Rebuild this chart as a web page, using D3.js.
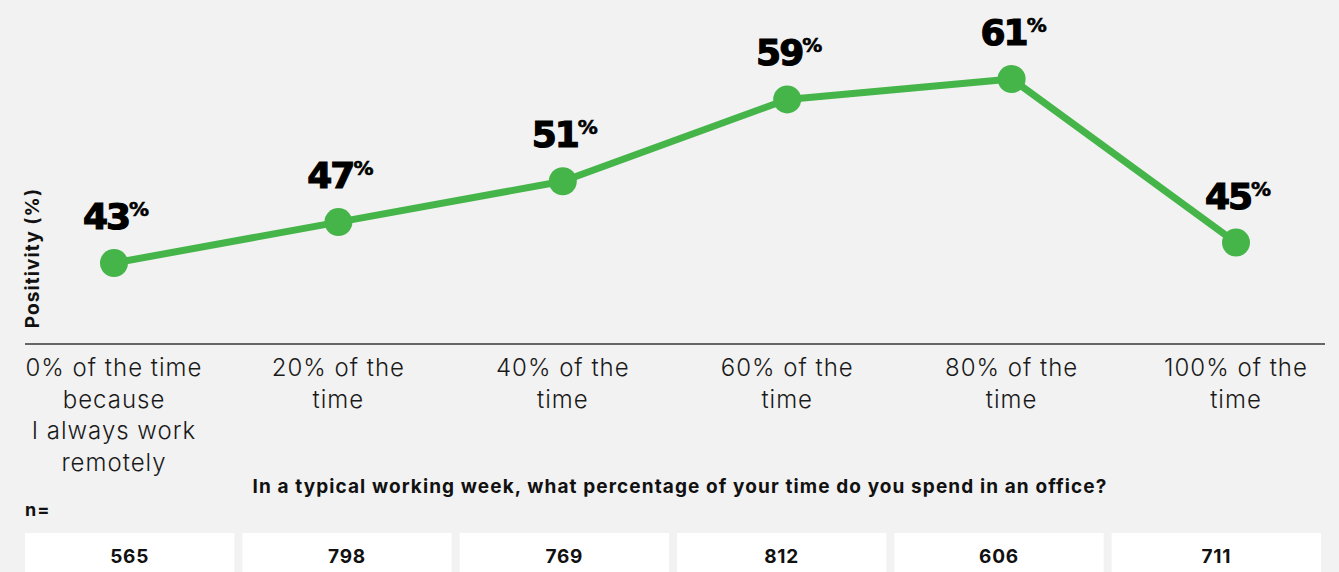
<!DOCTYPE html>
<html lang="en">
<head>
<meta charset="utf-8">
<title>Positivity by office time</title>
<script src="https://d3js.org/d3.v7.min.js"></script>
<style>
  html, body { margin: 0; padding: 0; background: #f2f2f2; }
  svg { display: block; }
  .bold { font-family: Inter, 'DejaVu Sans', sans-serif; font-weight: 700; fill: #111; }
</style>
</head>
<body>
<div id="chart"></div>
<script>
// data
const categories = [
  ["0% of the time", "because", "I always work", "remotely"],
  ["20% of the", "time"],
  ["40% of the", "time"],
  ["60% of the", "time"],
  ["80% of the", "time"],
  ["100% of the", "time"]
];
const positivity = [43, 47, 51, 59, 61, 45];
const sampleSizes = [565, 798, 769, 812, 606, 711];

const W = 1339, H = 572;

const svg = d3.select("#chart").append("svg")
    .attr("width", W)
    .attr("height", H);

const idx = d3.range(categories.length);

// x scale - point positions
const x = d3.scalePoint()
    .domain(idx)
    .range([114, 1236]);

// y scale
const y = d3.scaleLinear()
    .domain([35, 65])
    .range([344.8, 38.1]);

// baseline axis
svg.append("line")
    .attr("x1", 25).attr("x2", 1325)
    .attr("y1", 344).attr("y2", 344)
    .attr("stroke", "#666")
    .attr("stroke-width", 2);

// y axis title
svg.append("text")
    .attr("class", "bold")
    .attr("transform", "translate(39,258) rotate(-90)")
    .attr("text-anchor", "middle")
    .style("font-size", "19px")
    .style("letter-spacing", "1.1px")
    .text("Positivity (%)");

// line
const line = d3.line()
    .x((d, i) => x(i))
    .y(d => y(d));

svg.append("path")
    .datum(positivity)
    .attr("d", line)
    .attr("fill", "none")
    .attr("stroke", "#45b549")
    .attr("stroke-width", 7)
    .attr("stroke-linejoin", "round");

svg.selectAll(".dot")
    .data(positivity)
    .enter().append("circle")
    .attr("cx", (d, i) => x(i))
    .attr("cy", d => y(d))
    .attr("r", 14)
    .attr("fill", "#45b549");

// value labels
const lbl = svg.selectAll(".val")
    .data(positivity)
    .enter().append("text")
    .attr("x", (d, i) => x(i) + 1)
    .attr("y", d => y(d) - 34)
    .attr("text-anchor", "middle")
    .style("font-family", "'DejaVu Sans', sans-serif")
    .style("font-weight", 700)
    .style("letter-spacing", "-2px")
    .attr("fill", "#000")
    .attr("stroke", "#000")
    .attr("stroke-width", 1.2);
lbl.append("tspan")
    .style("font-size", "36px")
    .text(d => d);
lbl.append("tspan")
    .style("font-size", "20px")
    .attr("stroke-width", 0.6)
    .attr("dy", -13)
    .text("%");

// category labels
categories.forEach((lines, i) => {
  const t = svg.append("text")
      .attr("text-anchor", "middle")
      .attr("y", 376)
      .style("font-family", "Inter, 'Open Sans', sans-serif")
      .style("font-weight", 300)
      .style("font-size", "24px")
      .style("letter-spacing", "1px")
      .attr("fill", "#1a1a1a");
  lines.forEach((s, j) => {
    t.append("tspan")
      .attr("x", x(i))
      .attr("y", 376 + j * 31.5)
      .text(s);
  });
});

// x axis title
svg.append("text")
    .attr("class", "bold")
    .attr("x", 680)
    .attr("y", 493)
    .attr("text-anchor", "middle")
    .style("font-size", "19px")
    .style("letter-spacing", "1.1px")
    .text("In a typical working week, what percentage of your time do you spend in an office?");

svg.append("text")
    .attr("class", "bold")
    .attr("x", 25)
    .attr("y", 516)
    .style("font-size", "18px")
    .style("letter-spacing", "1px")
    .text("n=");

// sample size boxes
const band = d3.scaleBand()
    .domain(idx)
    .range([25, 1321])
    .paddingInner(0.037)
    .paddingOuter(0);

svg.selectAll(".box")
    .data(sampleSizes)
    .enter().append("rect")
    .attr("x", (d, i) => band(i))
    .attr("y", 533)
    .attr("width", band.bandwidth())
    .attr("height", 60)
    .attr("fill", "#fff");

svg.selectAll(".n")
    .data(sampleSizes)
    .enter().append("text")
    .attr("class", "bold")
    .attr("x", (d, i) => band(i) + band.bandwidth() / 2)
    .attr("y", 563)
    .attr("text-anchor", "middle")
    .style("font-size", "19px")
    .style("letter-spacing", "0.8px")
    .text(d => d);
</script>
</body>
</html>
